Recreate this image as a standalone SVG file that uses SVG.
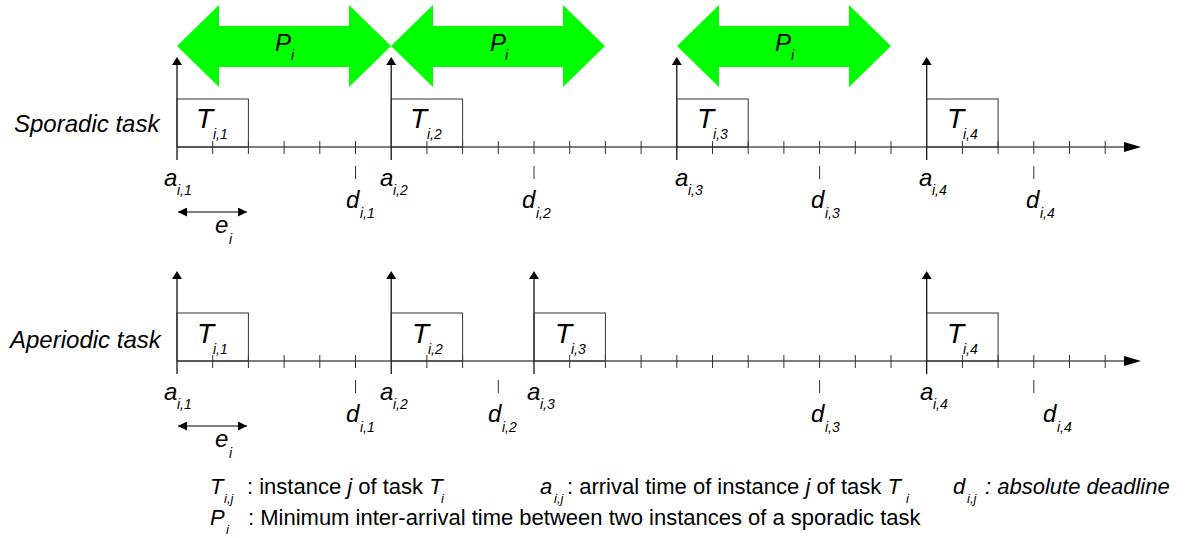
<svg xmlns="http://www.w3.org/2000/svg" width="1195" height="538" viewBox="0 0 1195 538">
<style>
text{font-family:"Liberation Sans",Arial,sans-serif;fill:#000}
.it{font-style:italic}
.lbl{font-size:24px;font-style:italic}
.tk{font-size:28px;font-style:italic}
.sub{font-size:14px;font-style:italic}
.lg{font-size:22px}
.lgs{font-size:13px;font-style:italic}
.axis{stroke:#000;stroke-width:1.2;fill:none}
.tick{stroke:#333;stroke-width:1;fill:none}
.box{stroke:#333;stroke-width:1;fill:none}
.green{fill:#00ff00;stroke:none}
.head{fill:#000;stroke:none}
</style>
<defs>
<marker id="ah" viewBox="0 0 10 10" refX="10" refY="5" markerWidth="9" markerHeight="9" markerUnits="userSpaceOnUse" orient="auto-start-reverse"><path d="M0,0 L10,5 L0,10 z" fill="#000"/></marker>
</defs>

<g id="labels">
<text x="14" y="132" class="it" font-size="24">Sporadic task</text>
<text x="10" y="348" class="it" font-size="24">Aperiodic task</text>
</g>

<g id="periods">
<g id="p1"><polygon class="green" points="177,46 219,5 219,26 349,26 349,5 391,46 349,87 349,67 219,67 219,87"/><text x="275" y="51" class="lbl">P</text><text x="291" y="60" class="sub">i</text></g>
<g id="p2"><polygon class="green" points="391,46 433,5 433,26 563,26 563,5 605,46 563,87 563,67 433,67 433,87"/><text x="490" y="51" class="lbl">P</text><text x="505" y="60" class="sub">i</text></g>
<g id="p3"><polygon class="green" points="677,46 719,5 719,26 849,26 849,5 891,46 849,87 849,67 719,67 719,87"/><text x="775" y="51" class="lbl">P</text><text x="791" y="60" class="sub">i</text></g>
</g>

<g id="connectors">
<!-- top timeline -->
<line class="axis" x1="177" y1="147" x2="1128" y2="147"/>
<polygon class="head" points="1124,142 1141,147 1124,152"/>
<path class="tick" d="M212.7,141V154M248.4,141V154M284.1,141V154M319.8,141V154M355.5,141V154M426.9,141V154M462.6,141V154M498.3,141V154M534,141V154M569.7,141V154M605.4,141V154M641.1,141V154M712.5,141V154M748.2,141V154M783.9,141V154M819.6,141V154M855.3,141V154M891,141V154M962.4,141V154M998.1,141V154M1033.8,141V154M1069.5,141V154M1105.2,141V154"/>
<path class="tick" d="M355.5,166V179M534,166V179M819.6,166V179M1033.8,166V179"/>
<path class="axis" d="M177,160V64M391.2,160V64M676.8,160V64M926.7,160V64"/>
<path class="head" d="M172,65L177,57L182,65zM386.2,65L391.2,57L396.2,65zM671.8,65L676.8,57L681.8,65zM921.7,65L926.7,57L931.7,65z"/>
<line class="axis" x1="178" y1="212" x2="247" y2="212" marker-start="url(#ah)" marker-end="url(#ah)"/>
<!-- bottom timeline -->
<line class="axis" x1="177" y1="361" x2="1128" y2="361"/>
<polygon class="head" points="1124,356 1141,361 1124,366"/>
<path class="tick" d="M212.7,355V368M248.4,355V368M284.1,355V368M319.8,355V368M355.5,355V368M426.9,355V368M462.6,355V368M569.7,355V368M605.4,355V368M641.1,355V368M676.8,355V368M712.5,355V368M748.2,355V368M783.9,355V368M819.6,355V368M855.3,355V368M891,355V368M962.4,355V368M998.1,355V368M1033.8,355V368M1069.5,355V368M1105.2,355V368"/>
<path class="tick" d="M355.5,380V393M498.3,380V393M819.6,380V393M1033.8,380V393"/>
<path class="axis" d="M177,374V278M391.2,374V278M534,374V278M926.7,374V278"/>
<path class="head" d="M172,279L177,271L182,279zM386.2,279L391.2,271L396.2,279zM529,279L534,271L539,279zM921.7,279L926.7,271L931.7,279z"/>
<line class="axis" x1="178" y1="426" x2="247" y2="426" marker-start="url(#ah)" marker-end="url(#ah)"/>
</g>

<g id="sporadic-jobs">
<g id="s1"><rect class="box" x="177" y="99" width="71.4" height="48"/><text x="196" y="128" class="tk">T</text><text x="213" y="139" class="sub">i,1</text></g>
<g id="s2"><rect class="box" x="391.2" y="99" width="71.4" height="48"/><text x="410" y="128" class="tk">T</text><text x="427" y="139" class="sub">i,2</text></g>
<g id="s3"><rect class="box" x="676.8" y="99" width="71.4" height="48"/><text x="697" y="128" class="tk">T</text><text x="713" y="139" class="sub">i,3</text></g>
<g id="s4"><rect class="box" x="926.7" y="99" width="71.4" height="48"/><text x="947" y="128" class="tk">T</text><text x="963" y="139" class="sub">i,4</text></g>
</g>

<g id="sporadic-times">
<text x="164" y="186" class="lbl">a</text><text x="177" y="195" class="sub">i,1</text>
<text x="380" y="186" class="lbl">a</text><text x="393" y="195" class="sub">i,2</text>
<text x="675" y="186" class="lbl">a</text><text x="688" y="195" class="sub">i,3</text>
<text x="919" y="186" class="lbl">a</text><text x="932" y="195" class="sub">i,4</text>
<text x="346" y="208" class="lbl">d</text><text x="360" y="218" class="sub">i,1</text>
<text x="522" y="208" class="lbl">d</text><text x="536" y="218" class="sub">i,2</text>
<text x="811" y="208" class="lbl">d</text><text x="825" y="218" class="sub">i,3</text>
<text x="1026" y="208" class="lbl">d</text><text x="1040" y="218" class="sub">i,4</text>
<text x="215" y="233" class="lbl">e</text><text x="229" y="244" class="sub">i</text>
</g>

<g id="aperiodic-jobs">
<g id="a1"><rect class="box" x="177" y="313" width="71.4" height="48"/><text x="197" y="343" class="tk">T</text><text x="213" y="354" class="sub">i,1</text></g>
<g id="a2"><rect class="box" x="391.2" y="313" width="71.4" height="48"/><text x="412" y="343" class="tk">T</text><text x="428" y="354" class="sub">i,2</text></g>
<g id="a3"><rect class="box" x="534" y="313" width="71.4" height="48"/><text x="555" y="343" class="tk">T</text><text x="571" y="354" class="sub">i,3</text></g>
<g id="a4"><rect class="box" x="926.7" y="313" width="71.4" height="48"/><text x="947" y="343" class="tk">T</text><text x="963" y="354" class="sub">i,4</text></g>
</g>

<g id="aperiodic-times">
<text x="164" y="400" class="lbl">a</text><text x="177" y="409" class="sub">i,1</text>
<text x="380" y="400" class="lbl">a</text><text x="393" y="409" class="sub">i,2</text>
<text x="527" y="400" class="lbl">a</text><text x="540" y="409" class="sub">i,3</text>
<text x="920" y="400" class="lbl">a</text><text x="933" y="409" class="sub">i,4</text>
<text x="346" y="422" class="lbl">d</text><text x="360" y="432" class="sub">i,1</text>
<text x="488" y="422" class="lbl">d</text><text x="502" y="432" class="sub">i,2</text>
<text x="811" y="422" class="lbl">d</text><text x="825" y="432" class="sub">i,3</text>
<text x="1043" y="422" class="lbl">d</text><text x="1057" y="432" class="sub">i,4</text>
<text x="215" y="447" class="lbl">e</text><text x="229" y="458" class="sub">i</text>
</g>

<g id="legend">
<text x="210" y="494" class="lg it">T</text><text x="224" y="503" class="lgs">i,j</text>
<text x="247" y="494" class="lg">: instance <tspan class="it">j</tspan> of task <tspan class="it">T</tspan></text><text x="441" y="503" class="lgs">i</text>
<text x="540" y="494" class="lg it">a</text><text x="554" y="503" class="lgs">i,j</text>
<text x="567" y="494" class="lg">: arrival time of instance <tspan class="it">j</tspan> of task <tspan class="it">T</tspan></text><text x="906" y="503" class="lgs">i</text>
<text x="953" y="494" class="lg it">d</text><text x="967" y="503" class="lgs">i,j</text>
<text x="985" y="494" class="lg it"> : absolute deadline</text>
<text x="210" y="525" class="lg it">P</text><text x="226" y="534" class="lgs">i</text>
<text x="248" y="525" class="lg">: Minimum inter-arrival time between two instances of a sporadic task</text>
</g>
</svg>
